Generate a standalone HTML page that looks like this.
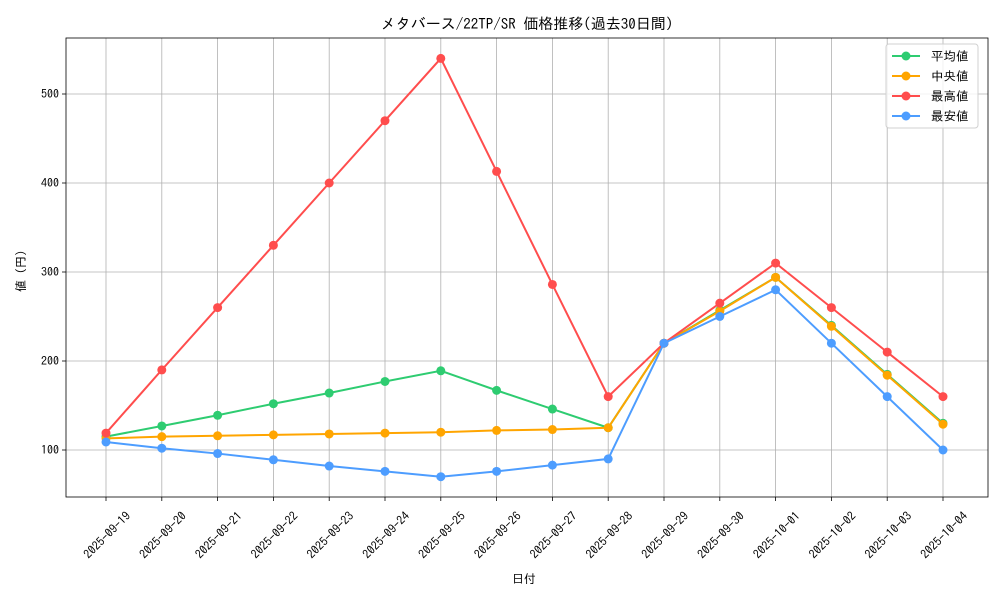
<!DOCTYPE html>
<html><head><meta charset="utf-8">
<style>
html,body{margin:0;padding:0;background:#fff;}
svg text{font-family:"IPAGothic","Noto Sans CJK JP",monospace;fill:#000;}
</style></head><body>
<svg id="s" width="1000" height="600" xmlns="http://www.w3.org/2000/svg">
<rect width="1000" height="600" fill="#fff"/>
<text x="527" y="29" font-size="15" text-anchor="middle">メタバース/22TP/SR 価格推移(過去30日間)</text>
<text x="524" y="583" font-size="12" text-anchor="middle">日付</text>
<text transform="translate(25,268) rotate(-90)" font-size="12" text-anchor="middle">値（円）</text>
<g id="g"></g>
</svg>
<script>
const g=document.getElementById('g');let h='';
const X=i=>106+i*55.8, Y=v=>450-(v-100)*0.89;
const dates=['09-19','09-20','09-21','09-22','09-23','09-24','09-25','09-26','09-27','09-28','09-29','09-30','10-01','10-02','10-03','10-04'];
for(let i=0;i<16;i++){const x=X(i);
h+=`<line x1="${x}" y1="38" x2="${x}" y2="497" stroke="#b0b0b0" stroke-width="0.8"/>`;
h+=`<line x1="${x}" y1="497" x2="${x}" y2="501" stroke="#000" stroke-width="0.8"/>`;
h+=`<text transform="translate(${x+4},${538}) rotate(-45)" font-size="12" text-anchor="middle">2025-${dates[i]}</text>`;}
for(let v=100;v<=500;v+=100){const y=Y(v);
h+=`<line x1="66" y1="${y}" x2="988" y2="${y}" stroke="#b0b0b0" stroke-width="0.8"/>`;
h+=`<line x1="62" y1="${y}" x2="66" y2="${y}" stroke="#000" stroke-width="0.8"/>`;
h+=`<text x="59" y="${y+4}" font-size="12" text-anchor="end">${v}</text>`;}
h+=`<rect x="66" y="38" width="922" height="459" fill="none" stroke="#000" stroke-width="0.8"/>`;
const S=[['#2ecc71',[115,127,139,152,164,177,189,167,146,125,220,257,294,240,185,130]],
['#ffa500',[113,115,116,117,118,119,120,122,123,125,220,256,294,239,184,129]],
['#ff4d4d',[119,190,260,330,400,470,540,413,286,160,220,265,310,260,210,160]],
['#4d9dff',[109,102,96,89,82,76,70,76,83,90,220,250,280,220,160,100]]];
for(const [c,d] of S){h+=`<polyline fill="none" stroke="${c}" stroke-width="2" points="${d.map((v,i)=>X(i)+','+Y(v)).join(' ')}"/>`;
d.forEach((v,i)=>h+=`<circle cx="${X(i)}" cy="${Y(v)}" r="4.5" fill="${c}"/>`);}
h+=`<rect x="886" y="44" width="92" height="84" rx="3" fill="#fff" fill-opacity="0.8" stroke="#d0d0d0"/>`;
const L=['平均値',' 中央値','最高値','最安値'];
S.forEach(([c],i)=>{const y=56+i*20;
h+=`<line x1="892" y1="${y}" x2="920" y2="${y}" stroke="${c}" stroke-width="2"/><circle cx="906" cy="${y}" r="4.5" fill="${c}"/>`;
h+=`<text x="931" y="${y+4.5}" font-size="12.5">${L[i]}</text>`;});
g.innerHTML=h;
</script>
</body></html>
